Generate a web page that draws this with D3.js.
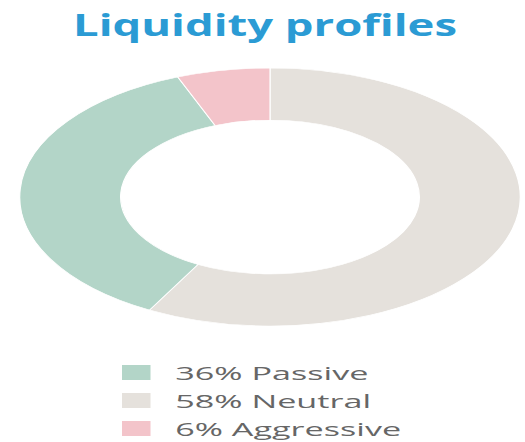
<!DOCTYPE html>
<html>
<head>
<meta charset="utf-8">
<script src="https://cdn.jsdelivr.net/npm/d3@7"></script>
<style>
  body { margin: 0; background: #fff; }
  svg { display: block; }
</style>
</head>
<body>
<svg width="525" height="442"></svg>
<script>
'use strict';

const categories = ['Passive', 'Neutral', 'Aggressive']
const shares = [36, 58, 6]
const labels = ['36% Passive', '58% Neutral', '6% Aggressive']
const colors = ['#b3d5c8', '#e5e1dc', '#f3c4ca']
// slices run clockwise from 12 o'clock: Neutral, Passive, Aggressive
const drawOrder = [1, 0, 2]

const svg = d3.select('svg')
const stretch = 1.94 // the picture is squashed wide

svg.append('text')
  .attr('x', 265)
  .attr('y', 36)
  .attr('text-anchor', 'middle')
  .attr('textLength', 384)
  .attr('lengthAdjust', 'spacingAndGlyphs')
  .style('font-family', '"Open Sans", sans-serif')
  .style('font-weight', 700)
  .style('font-size', '31px')
  .style('fill', '#2b9bd4')
  .text('Liquidity profiles')

const pie = d3.pie().sort(null).value((i) => shares[i])
const arc = d3.arc().innerRadius(77).outerRadius(129)

const g = svg.append('g')
  .attr('transform', `translate(270,197) scale(${stretch},1)`)

g.selectAll('path')
  .data(pie(drawOrder))
  .enter()
  .append('path')
  .attr('d', arc)
  .style('fill', (d) => colors[d.data])
  .style('stroke', '#fff')
  .style('stroke-width', 0.6)

const y = d3.scaleBand().domain(categories).range([352, 436]).padding(0)

const legend = svg.append('g')
  .attr('transform', `translate(122,0) scale(1.9,1)`)

const rows = legend.selectAll('g')
  .data(categories)
  .enter()
  .append('g')
  .attr('transform', (d) => `translate(0,${y(d)})`)

rows.append('rect')
  .attr('x', 0)
  .attr('y', 13)
  .attr('width', 15)
  .attr('height', 15)
  .style('fill', (d, i) => colors[i])

rows.append('text')
  .attr('x', 28)
  .attr('y', 28)
  .style('font-family', '"Open Sans", sans-serif')
  .style('font-size', '18px')
  .style('fill', '#666')
  .text((d, i) => labels[i])
</script>
</body>
</html>
